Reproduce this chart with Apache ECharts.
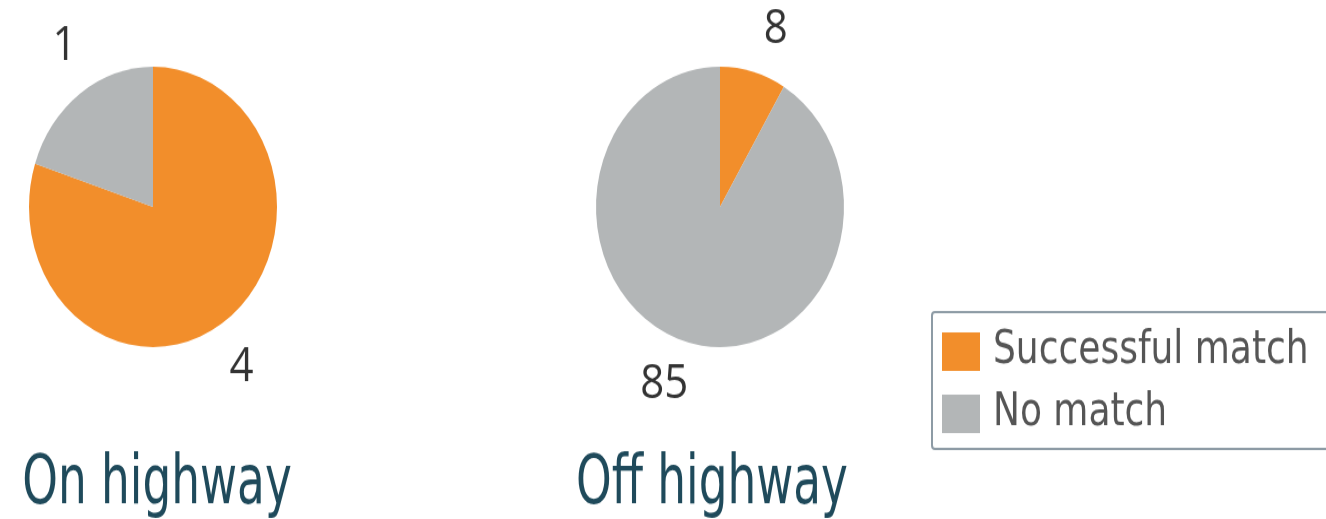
<!DOCTYPE html>
<html>
<head>
<meta charset="utf-8">
<script src="https://cdn.jsdelivr.net/npm/echarts@6/dist/echarts.min.js"></script>
<style>
  html, body { margin: 0; padding: 0; background: #ffffff; overflow: hidden; }
  #wrap { width: 1326px; height: 519px; overflow: hidden; position: relative; }
  #chart { width: 1326px; height: 459px; transform: scaleY(1.1307); transform-origin: 0 0; }
</style>
</head>
<body>
<div id="wrap"><div id="chart"></div></div>
<script>
const categories = ['Successful match', 'No match'];
const onHighway = [4, 1];
const offHighway = [8, 85];
const pieTitles = ['On highway', 'Off highway'];
const colors = ['#f28e2b', '#b3b6b7'];

const chart = echarts.init(document.getElementById('chart'), null, { renderer: 'canvas' });

const R = 124;
const LABEL_D = 43;
const LABEL_ROT = 4 * Math.PI / 180;

function makeData(vals) {
  return categories.map((c, i) => ({ name: c, value: vals[i] }));
}

function labelLayout(p) {
  const pts = p.labelLinePoints;
  if (!pts || pts.length < 2) return {};
  const a = pts[0], b = pts[1];
  let dx = b[0] - a[0], dy = b[1] - a[1];
  const n = Math.hypot(dx, dy) || 1;
  dx /= n; dy /= n;
  // pie centre recovered from the edge point and the radial direction
  const cx = a[0] - dx * R, cy = a[1] - dy * R;
  const c = Math.cos(LABEL_ROT), s = Math.sin(LABEL_ROT);
  const rx = dx * c - dy * s, ry = dx * s + dy * c;
  return {
    x: cx + rx * (R + LABEL_D),
    y: cy + ry * (R + LABEL_D),
    align: 'center',
    verticalAlign: 'middle'
  };
}

function pieSeries(vals, center) {
  return {
    type: 'pie',
    radius: R,
    center: center,
    startAngle: 90,
    clockwise: true,
    avoidLabelOverlap: false,
    silent: true,
    animation: false,
    data: makeData(vals),
    itemStyle: { borderWidth: 0 },
    label: {
      show: true,
      position: 'outside',
      formatter: '{c}',
      fontFamily: 'Open Sans',
      fontSize: 42,
      color: '#333333'
    },
    labelLine: { show: true, length: 20, length2: 0, lineStyle: { width: 0, opacity: 0 } },
    labelLayout: labelLayout,
    emphasis: { disabled: true }
  };
}

const titleFont = '60px "DejaVu Sans Condensed", sans-serif';

chart.setOption({
  backgroundColor: '#ffffff',
  color: colors,
  animation: false,
  legend: {
    orient: 'vertical',
    left: 932,
    top: 276,
    data: categories,
    icon: 'rect',
    itemWidth: 38,
    itemHeight: 34,
    itemGap: 15,
    padding: [15, 300, 11, 10],
    borderColor: '#8d9ba5',
    borderWidth: 2,
    borderRadius: 3,
    selectedMode: false,
    textStyle: {
      fontFamily: '"DejaVu Sans Condensed", sans-serif',
      fontSize: 40,
      color: '#555555',
      padding: [0, 0, 0, 8]
    }
  },
  graphic: [
    { type: 'text', x: 157, y: 429, scaleX: 0.84, silent: true,
      style: { text: pieTitles[0], font: titleFont, fill: '#1f4a5b', textAlign: 'center', textVerticalAlign: 'middle' } },
    { type: 'text', x: 712, y: 429, scaleX: 0.84, silent: true,
      style: { text: pieTitles[1], font: titleFont, fill: '#1f4a5b', textAlign: 'center', textVerticalAlign: 'middle' } }
  ],
  series: [
    pieSeries(onHighway, [153, 183]),
    pieSeries(offHighway, [720, 183])
  ]
});
</script>
</body>
</html>
